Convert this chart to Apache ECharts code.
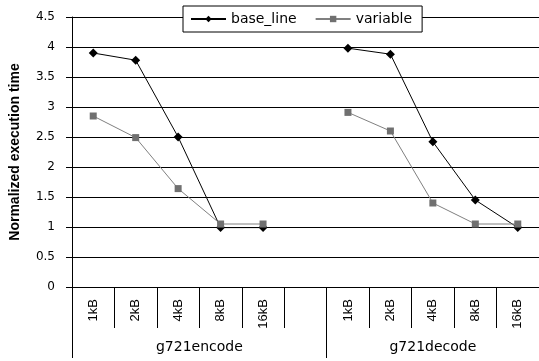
<!DOCTYPE html>
<html>
<head>
<meta charset="utf-8">
<script src="https://cdn.jsdelivr.net/npm/echarts@6/dist/echarts.min.js"></script>
<style>html,body{margin:0;padding:0;background:#fff;}#c{width:539px;height:361px;}</style>
</head>
<body>
<div id="c"></div>
<script>
const categories = ['1kB','2kB','4kB','8kB','16kB','','1kB','2kB','4kB','8kB','16kB'];
const groups = ['g721encode','g721decode'];
const groupCenters = [3, 8.5];
const groupBounds = [0, 6, 11];
const baseLine = [3.9, 3.78, 2.5, 0.99, 0.99, null, 3.98, 3.88, 2.42, 1.45, 0.99];
const variable = [2.85, 2.49, 1.64, 1.05, 1.05, null, 2.91, 2.6, 1.4, 1.05, 1.05];
const yTicks = { min: 0, max: 4.5, interval: 0.5 };

const chart = echarts.init(document.getElementById('c'), null, {renderer: 'canvas'});
chart.setOption({
  animation: false,
  backgroundColor: '#fff',
  grid: { left: 72, top: 17, width: 473, height: 270, containLabel: false },
  legend: {
    left: 183, top: 6,
    padding: [6, 10, 6, 7],
    backgroundColor: '#fff',
    borderColor: '#000', borderWidth: 1,
    itemWidth: 35, itemHeight: 8, itemGap: 18,
    textStyle: { fontFamily: 'DejaVu Sans', fontSize: 14, color: '#000' },
    data: ['base_line', 'variable']
  },
  xAxis: [{
    type: 'category',
    data: categories,
    boundaryGap: true,
    axisLine: { show: true, lineStyle: { color: '#000', width: 1 } },
    axisTick: { show: true, interval: 0, alignWithLabel: false, length: 41, lineStyle: { color: '#000', width: 1 } },
    axisLabel: { interval: 0, rotate: 90, margin: 12, fontFamily: 'Liberation Sans', fontSize: 13, color: '#000' },
    splitLine: { show: false }
  }, {
    type: 'value',
    min: 0, max: 11, interval: 0.5,
    position: 'bottom',
    axisLine: { show: false },
    axisTick: { show: true, customValues: groupBounds, length: 71, lineStyle: { color: '#000' } },
    axisLabel: {
      customValues: groupCenters, margin: 53,
      fontFamily: 'DejaVu Sans', fontSize: 14, color: '#000',
      formatter: v => { const i = groupCenters.indexOf(v); return i >= 0 ? groups[i] : ''; }
    },
    splitLine: { show: false }
  }],
  yAxis: {
    type: 'value',
    min: yTicks.min, max: yTicks.max, interval: yTicks.interval,
    name: 'Normalized execution time',
    nameLocation: 'middle', nameGap: 50,
    nameTextStyle: { fontFamily: 'Liberation Sans', fontWeight: 'bold', fontSize: 14, color: '#000' },
    axisLine: { show: true, lineStyle: { color: '#000' } },
    axisTick: { show: true, length: 6, lineStyle: { color: '#000' } },
    axisLabel: { margin: 17, fontFamily: 'DejaVu Sans', fontSize: 12, color: '#000' },
    splitLine: { lineStyle: { color: '#000', width: 1 } }
  },
  series: [{
    name: 'base_line', type: 'line', data: baseLine,
    symbol: 'diamond', symbolSize: 9, connectNulls: false,
    itemStyle: { color: '#000' },
    lineStyle: { color: '#000', width: 1 }
  }, {
    name: 'variable', type: 'line', data: variable,
    symbol: 'rect', symbolSize: 7, connectNulls: false,
    itemStyle: { color: '#707070' },
    lineStyle: { color: '#808080', width: 1 }
  }]
});
</script>
</body>
</html>
